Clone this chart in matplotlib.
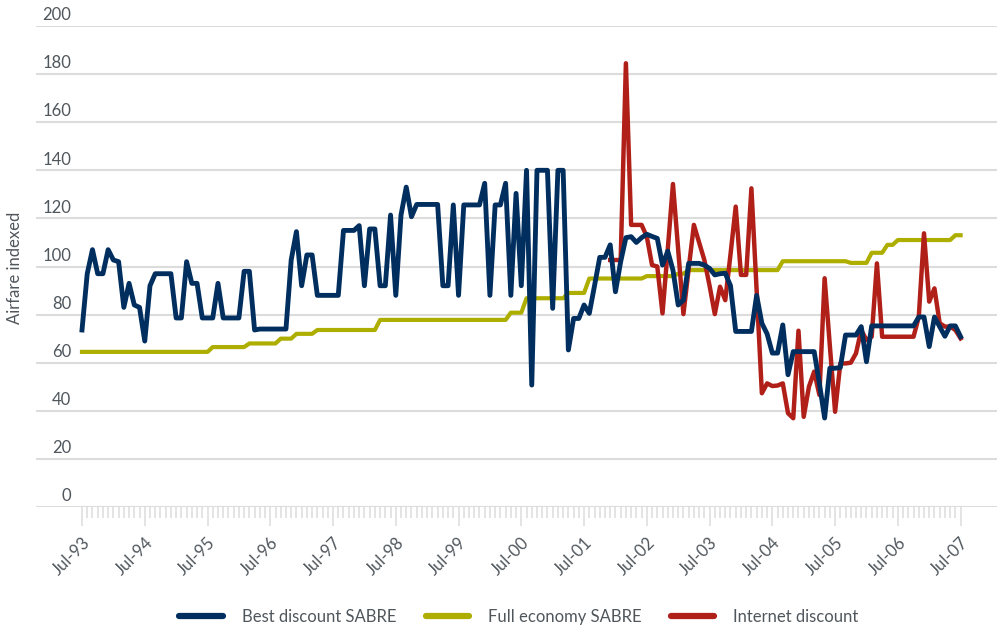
import numpy as np
import matplotlib
matplotlib.use("Agg")
from matplotlib import pyplot as plt
from matplotlib.transforms import ScaledTranslation
from matplotlib.lines import Line2D

plt.rcParams['font.family'] = ['Lato', 'DejaVu Sans']

# monthly data, Jul-93 .. Jul-07 (169 months)
best_discount = [
    73.6, 97, 107, 97, 97, 107, 102.7, 102, 83, 93, 84, 83,
    69, 92, 97, 97, 97, 97, 78.6, 78.6, 102, 93, 93, 78.6,
    78.6, 78.6, 93, 78.6, 78.6, 78.6, 78.6, 98, 98, 73.6, 74, 74,
    74, 74, 74, 74, 102.7, 114.5, 92, 104.8, 104.8, 88, 88, 88,
    88, 88, 115, 115, 115, 117, 92, 115.6, 115.6, 92, 92, 121.4,
    88, 121.4, 133, 120.7, 125.8, 125.8, 125.8, 125.8, 125.8, 92, 92, 125.6,
    88, 125.6, 125.6, 125.6, 125.6, 134.6, 88, 125.6, 125.6, 134.6, 88, 130.4,
    92, 140, 50.7, 140, 140, 140, 82.6, 140, 140, 65.3, 78.4, 78.4,
    84, 80.5, 92, 103.8, 103.8, 109, 89.5, 102, 112, 112.4, 110, 112,
    113.4, 112.5, 111.7, 100.6, 106.4, 98.5, 84, 86, 101.3, 101.3, 101.3, 100.6,
    99.2, 96.5, 97, 97.2, 92, 73, 73, 73, 73, 88, 76.4, 72,
    64, 64, 75.7, 55, 64.6, 64.6, 64.6, 64.6, 64.6, 51.4, 37, 57.7,
    57.7, 58, 71.5, 71.5, 71.5, 75, 60.4, 75.3, 75.3, 75.3, 75.3, 75.3,
    75.3, 75.3, 75.3, 75.3, 79, 79, 66.7, 79, 75, 71, 75.3, 75.3,
    70.8,
]

full_economy = (
    [64.5] * 25 + [66.5] * 7 + [68] * 6 + [70] * 3 + [72] * 4 + [73.6] * 12
    + [77.8] * 25 + [80.8] * 3 + [86.8] * 8 + [89] * 4 + [95] * 11 + [96] * 6
    + [97] * 2 + [98.5] * 18 + [102.2] * 13 + [101.5] * 4 + [105.7] * 3
    + [109] * 2 + [111] * 11 + [113] * 2
)

# internet discount starts in month 101
internet_start = 101
internet_discount = [
    102.7, 102.7, 102.7, 184.5, 117.3, 117.3, 117.3, 112.4, 100.6, 100, 80.5, 107,
    134.3, 107, 80.2, 99, 117.3, 110, 102.7, 92, 80.2, 91.6, 86, 105,
    124.9, 96.5, 96.5, 132.5, 90, 47.3, 51.4, 50.3, 50.5, 51.4, 39, 36.9,
    73.3, 37.5, 50, 56.3, 46.6, 95.1, 67, 39.6, 59.7, 59.7, 60, 63.9,
    73.6, 69.4, 70.8, 101.3, 70.8, 70.8, 70.8, 70.8, 70.8, 70.8, 70.8, 79,
    113.8, 85.4, 90.9, 76.4, 75, 75, 73.6, 70.1,
]

year_labels = ["Jul-%02d" % (y % 100) for y in range(93, 108)]
y_ticks = list(range(0, 201, 20))

months = np.arange(len(best_discount))
months_internet = np.arange(internet_start, internet_start + len(internet_discount))

blue = "#002f5f"
yellow = "#aeae00"
red = "#b11f19"
grid_color = "#dcdcdc"
text_color = "#4f565c"

W, H = 997, 628
fig = plt.figure(figsize=(W / 100, H / 100), dpi=100)
ax = fig.add_axes([36 / W, (H - 507) / H, (W - 36) / W, (507 - 26) / H])

px_month = (960.6 - 82) / 168
ax.set_xlim(-(82 - 36) / px_month, 168 + (W - 960.6) / px_month)
ax.set_ylim(0, 200)
for s in ax.spines.values():
    s.set_visible(False)

for v in y_ticks:
    ax.axhline(v, color=grid_color, lw=1.5, zorder=0)
    ax.annotate(str(v), xy=(0, v), xycoords=('axes fraction', 'data'),
                xytext=(25.5, 2.0), textcoords='offset points',
                ha='right', va='bottom', fontsize=12, color=text_color)
ax.set_yticks([])

ax.plot(months, full_economy, color=yellow, lw=3.0, zorder=2, solid_joinstyle='round')
ax.plot(months_internet, internet_discount, color=red, lw=3.2, zorder=3, solid_joinstyle='round')
ax.plot(months, best_discount, color=blue, lw=3.5, zorder=4, solid_joinstyle='round')

ax.set_xticks(np.arange(0, 169, 12))
ax.set_xticklabels(year_labels, rotation=45, ha='right', va='center',
                   rotation_mode='anchor', fontsize=12, color=text_color)
ax.set_xticks(np.arange(0, 169, 1), minor=True)
ax.tick_params(axis='x', which='major', length=13.7, width=1.1, color=grid_color, pad=10.5)
ax.tick_params(axis='x', which='minor', length=8, width=1.1, color=grid_color)
off = ScaledTranslation(5.5 / 100, 0, fig.dpi_scale_trans)
for lab in ax.get_xticklabels():
    lab.set_transform(lab.get_transform() + off)

fig.text(15 / W, 1 - 268 / H, "Airfare indexed", rotation=90, ha='center', va='center',
         fontsize=12, color=text_color)

handles = [Line2D([], [], color=blue, lw=4.5, solid_capstyle='round'),
           Line2D([], [], color=yellow, lw=4.5, solid_capstyle='round'),
           Line2D([], [], color=red, lw=4.5, solid_capstyle='round')]
labels = ["Best discount SABRE", "Full economy SABRE", "Internet discount"]
fig.legend(handles, labels, loc='center', bbox_to_anchor=(519 / W, 1 - 617 / H), ncol=3,
           frameon=False, fontsize=12, handlelength=2.6, handletextpad=1.15,
           columnspacing=1.75, labelcolor=text_color)

fig.savefig("out.png", dpi=100)
